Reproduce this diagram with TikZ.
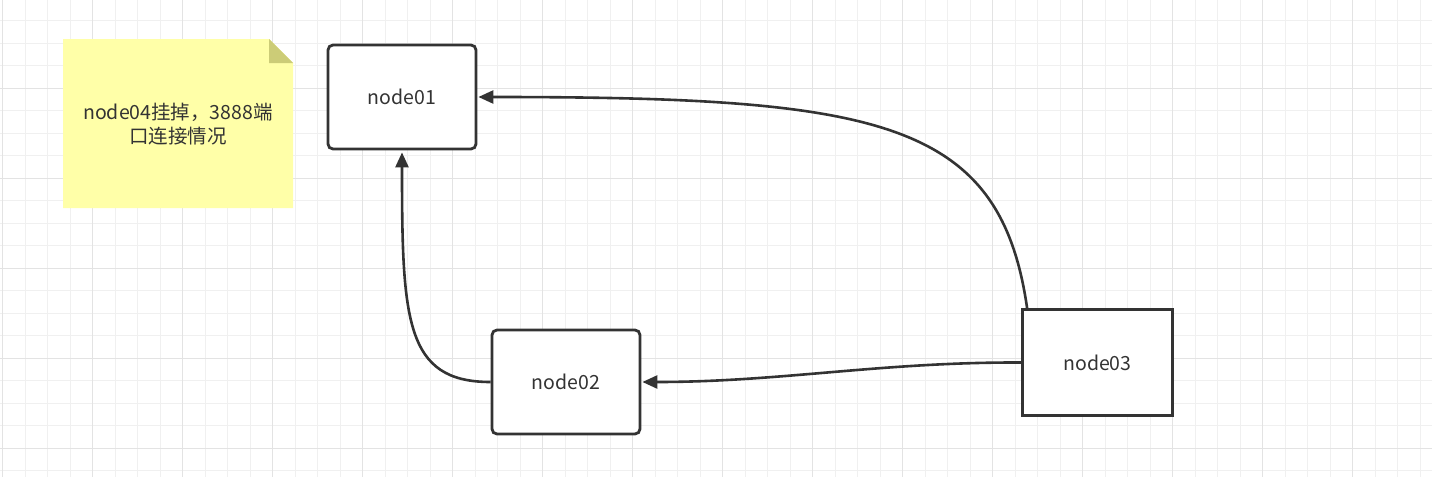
\documentclass[tikz,border=0pt]{standalone}
\usepackage{fontspec}
\setmainfont{Noto Sans CJK SC}
\usetikzlibrary{arrows.meta}
\definecolor{ink}{HTML}{333333}
\definecolor{minorgrid}{HTML}{F0F0F0}
\definecolor{majorgrid}{HTML}{E3E3E3}
\definecolor{notefill}{HTML}{FFFFA8}
\definecolor{notefold}{HTML}{CCCC77}
\tikzset{
  minorline/.style={draw=minorgrid, line width=1pt},
  majorline/.style={draw=majorgrid, line width=1pt},
  box/.style={draw=ink, line width=2.8pt, fill=white, minimum width=148pt, minimum height=104pt, inner sep=0pt, text=ink, font=\fontsize{19.5}{23}\selectfont},
  rbox/.style={box, rounded corners=5pt},
  conn/.style={draw=ink, line width=2.6pt, -{Triangle[length=15pt,width=13pt]}},
  notetext/.style={text=ink, align=center, font=\fontsize{19.5}{24}\selectfont}
}
\begin{document}
\begin{tikzpicture}[x=1pt,y=-1pt]
\useasboundingbox (0,0) rectangle (1432,477);
\fill[white] (0,0) rectangle (1432,477);
% grid
\foreach \i in {0,...,63} {
  \draw[minorline] ({2.7+22.5*\i},0) -- ({2.7+22.5*\i},477);
}
\foreach \j in {0,...,20} {
  \draw[minorline] (0,{20.5+22.5*\j}) -- (1432,{20.5+22.5*\j});
}
\foreach \i in {0,...,15} {
  \draw[majorline] ({2.7+90*\i},0) -- ({2.7+90*\i},477);
}
\foreach \j in {0,...,4} {
  \draw[majorline] (0,{88.2+90*\j}) -- (1432,{88.2+90*\j});
}
% note
\fill[notefill] (63,39) -- (269,39) -- (293,63) -- (293,208) -- (63,208) -- cycle;
\fill[notefold] (269,39) -- (293,63) -- (269,63) -- cycle;
\node[notetext] (note) at (178,124) {node04挂掉，3888端\\口连接情况};
% nodes
\node[rbox] (n01) at (402,97) {node01};
\node[rbox] (n02) at (566,382) {node02};
\node[box, minimum width=150pt, minimum height=106pt] (n03) at (1097.5,362.5) {node03};
% connectors
\draw[conn] ([xshift=6pt]n03.north west) .. controls (1000,120) and (880,97) .. ([xshift=1pt]n01.east);
\draw[conn] (n02.west) .. controls (405,382) and (402,320) .. ([yshift=-2pt]n01.south);
\draw[conn] (n03.west) .. controls (880,362) and (780,382) .. ([xshift=1pt]n02.east);
\end{tikzpicture}
\end{document}
